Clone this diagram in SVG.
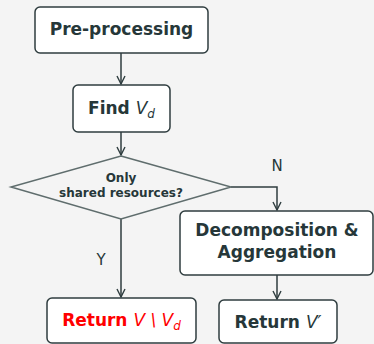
<svg xmlns="http://www.w3.org/2000/svg" width="374" height="344" viewBox="0 0 374 344">
<defs>
<marker id="ah" viewBox="0 0 10 10" refX="9" refY="5" markerWidth="10" markerHeight="10" markerUnits="userSpaceOnUse" orient="auto">
<path d="M1,1 L9,5 L1,9" fill="none" stroke="#2f3d3f" stroke-width="1.4"/>
</marker>
<style>
.bg{fill:#f4f4f4}
.box{fill:#ffffff;stroke:#2f3d3f;stroke-width:1.5}
.dia{fill:none;stroke:#5f6d6d;stroke-width:1.5}
.t{font-family:"DejaVu Sans",sans-serif;font-weight:bold;fill:#263739;text-anchor:middle}
.m{font-style:italic;font-weight:normal}
.red{fill:#ff0000}
.lab{font-family:"DejaVu Sans",sans-serif;fill:#263739;font-size:15px;text-anchor:middle}
.c{fill:none;stroke:#2f3d3f;stroke-width:1.5;marker-end:url(#ah)}
</style>
</defs>
<rect class="bg" x="0" y="0" width="374" height="344"/>
<g id="connectors">
<path class="c" d="M121,53 V84"/>
<path class="c" d="M121,132 V155"/>
<path class="c" d="M231,187 H277 V210"/>
<path class="c" d="M121,219 V297"/>
<path class="c" d="M277,275 V299"/>
<text class="lab" x="277" y="171">N</text>
<text class="lab" x="101" y="265">Y</text>
</g>
<g id="preprocessing">
<rect class="box" x="35" y="7" width="173" height="46" rx="5"/>
<text class="t" x="121.5" y="34.5" font-size="17">Pre-processing</text>
</g>
<g id="find">
<rect class="box" x="73" y="85" width="97" height="47" rx="5"/>
<text class="t" x="121.5" y="114" font-size="17">Find <tspan class="m">V</tspan><tspan class="m" font-size="12" dy="4">d</tspan></text>
</g>
<g id="decision">
<polygon class="dia" points="121,156 231,187 121,219 11,187"/>
<text class="t" x="121" y="182" font-size="12">Only</text>
<text class="t" x="121" y="197" font-size="12">shared resources?</text>
</g>
<g id="decomp">
<rect class="box" x="180" y="211" width="193" height="64" rx="5"/>
<text class="t" x="277" y="236" font-size="17">Decomposition &amp;</text>
<text class="t" x="277" y="258" font-size="17">Aggregation</text>
</g>
<g id="return1">
<rect class="box" x="47" y="298" width="149" height="45" rx="5"/>
<text class="t red" x="121.5" y="326" font-size="17">Return <tspan class="m">V</tspan><tspan class="m"> \ V</tspan><tspan class="m" font-size="12" dy="4">d</tspan></text>
</g>
<g id="return2">
<rect class="box" x="219" y="300" width="118" height="43" rx="5"/>
<text class="t" x="278" y="328" font-size="17">Return <tspan class="m">V′</tspan></text>
</g>
</svg>
